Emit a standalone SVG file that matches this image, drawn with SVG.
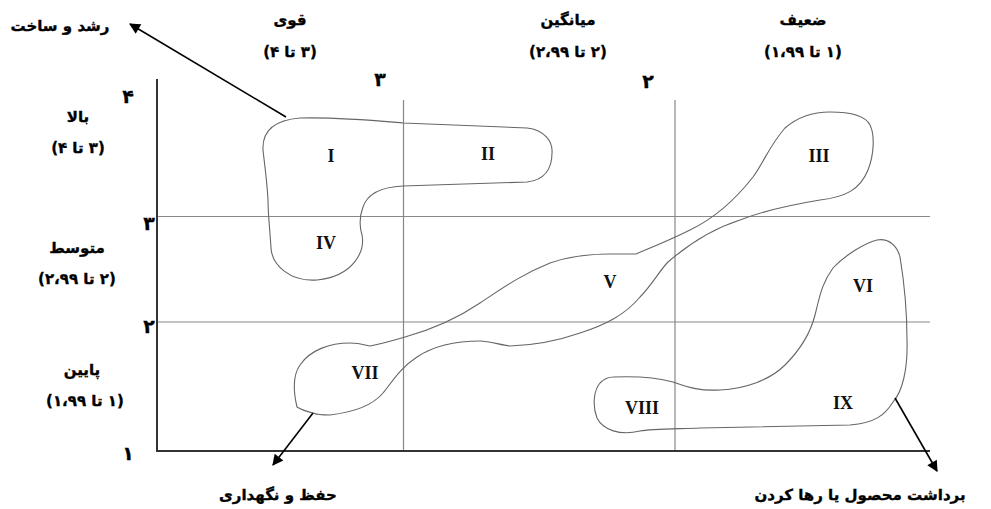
<svg xmlns="http://www.w3.org/2000/svg" width="991" height="509" viewBox="0 0 991 509">
<defs>
<style>
.fa{font-family:"DejaVu Sans",sans-serif;font-weight:bold;font-size:15px;fill:#000;stroke:#000;stroke-width:0.35;direction:rtl;text-anchor:middle}
.num{font-family:"DejaVu Sans",sans-serif;font-weight:bold;font-size:19px;fill:#000;stroke:#000;stroke-width:0.3;text-anchor:middle}
.rn{font-family:"Liberation Serif",serif;font-weight:bold;font-size:18px;fill:#111;text-anchor:middle}
.axis{stroke:#333;stroke-width:2;fill:none}
.grid{stroke:#888;stroke-width:1.2;fill:none}
.blob{stroke:#666;stroke-width:1.1;fill:none}
.arr{stroke:#000;stroke-width:1.6;fill:none;marker-end:url(#ah)}
</style>
<marker id="ah" viewBox="0 0 10 10" refX="9" refY="5" markerWidth="14" markerHeight="11" markerUnits="userSpaceOnUse" orient="auto"><path d="M0,0 L10,5 L0,10 Z" fill="#000"/></marker>
</defs>
<rect width="991" height="509" fill="#fff"/>
<g id="grid">
<line class="grid" x1="157" y1="216.5" x2="930" y2="216.5"/>
<line class="grid" x1="157" y1="322" x2="930" y2="322"/>
<line class="grid" x1="403.5" y1="100" x2="403.5" y2="451"/>
<line class="grid" x1="675" y1="100" x2="675" y2="451"/>
<line class="axis" x1="157" y1="79" x2="157" y2="452"/>
<line class="axis" x1="156" y1="451" x2="930" y2="451"/>
</g>
<g id="axis-labels">
<text class="num" x="128" y="103">۴</text>
<text class="num" x="149" y="230">۳</text>
<text class="num" x="149" y="333">۲</text>
<text class="num" x="128" y="460">۱</text>
<text class="num" x="380" y="86">۳</text>
<text class="num" x="648" y="88">۲</text>
</g>
<g id="row-labels">
<text class="fa" x="78" y="122">بالا</text>
<text class="fa" x="78" y="153">(۳ تا ۴)</text>
<text class="fa" x="77" y="253">متوسط</text>
<text class="fa" x="77" y="284">(۲ تا ۲،۹۹)</text>
<text class="fa" x="82" y="375">پایین</text>
<text class="fa" x="85" y="406">(۱ تا ۱،۹۹)</text>
</g>
<g id="col-labels">
<text class="fa" x="290" y="25">قوی</text>
<text class="fa" x="290" y="57">(۳ تا ۴)</text>
<text class="fa" x="568" y="25">میانگین</text>
<text class="fa" x="568" y="57">(۲ تا ۲،۹۹)</text>
<text class="fa" x="803" y="25">ضعیف</text>
<text class="fa" x="803" y="57">(۱ تا ۱،۹۹)</text>
</g>
<g id="node-grow">
<path class="blob" d="M300,118 C340,117 380,121 403,123 L527,128 C545,130 553,142 552,153 C552,168 545,180 527,182 L403,186 C380,187 367,195 363,207 C360,215 359,225 362,235 C365,250 355,276 317,280 C290,282 272,265 271,248 C270,230 268,215 268,200 C267,180 264,160 263,150 C262,130 275,120 300,118 Z"/>
<text class="rn" x="331" y="162">I</text>
<text class="rn" x="488" y="160">II</text>
<text class="rn" x="326" y="249">IV</text>
</g>
<g id="node-hold">
<path class="blob" d="M297,407 C293,390 293,375 300,365 C310,350 330,343 350,343 C360,343 365,345 370,346 C385,343 395,340 405,337 C430,330 455,320 480,303 C500,290 520,275 550,263 C570,256 590,254 610,254 L636,254 C655,246 670,240 690,230 C715,218 735,200 753,177 C765,160 770,145 785,128 C800,115 815,112 830,112 C850,112 865,115 870,125 C875,135 874,155 868,170 C860,190 845,197 820,200 C790,205 760,212 740,220 C715,228 690,243 668,262 C660,270 652,285 640,297 C625,315 605,325 580,333 C560,340 540,345 510,346 C500,345 490,341 480,341 C460,341 435,345 417,357 C400,368 392,382 383,393 C373,405 355,412 330,415 C320,415 315,414 313,413 C305,411 300,409 297,407 Z"/>
<text class="rn" x="819" y="162">III</text>
<text class="rn" x="610" y="288">V</text>
<text class="rn" x="365" y="379">VII</text>
</g>
<g id="node-harvest">
<path class="blob" d="M613,377 C635,376 655,377 673,382 C690,388 700,391 720,390 C745,389 770,380 785,365 C800,350 810,335 815,315 C820,295 822,283 833,268 C845,255 865,243 877,240 C888,238 897,245 900,257 C903,275 907,310 907,340 C908,370 902,392 893,402 C885,415 875,423 850,425 L700,428 C670,429 650,429 640,431 C620,436 603,430 597,418 C592,405 594,390 600,383 C604,379 608,377 613,377 Z"/>
<text class="rn" x="863" y="292">VI</text>
<text class="rn" x="642" y="414">VIII</text>
<text class="rn" x="843" y="409">IX</text>
</g>
<g id="connectors">
<line class="arr" x1="286" y1="117" x2="130" y2="24"/>
<line class="arr" x1="313" y1="413" x2="273" y2="465"/>
<line class="arr" x1="895" y1="398" x2="937" y2="471"/>
</g>
<g id="action-labels">
<text class="fa" x="60" y="31">رشد و ساخت</text>
<text class="fa" x="278" y="500">حفظ و نگهداری</text>
<text class="fa" x="860" y="500">برداشت محصول یا رها کردن</text>
</g>
</svg>
